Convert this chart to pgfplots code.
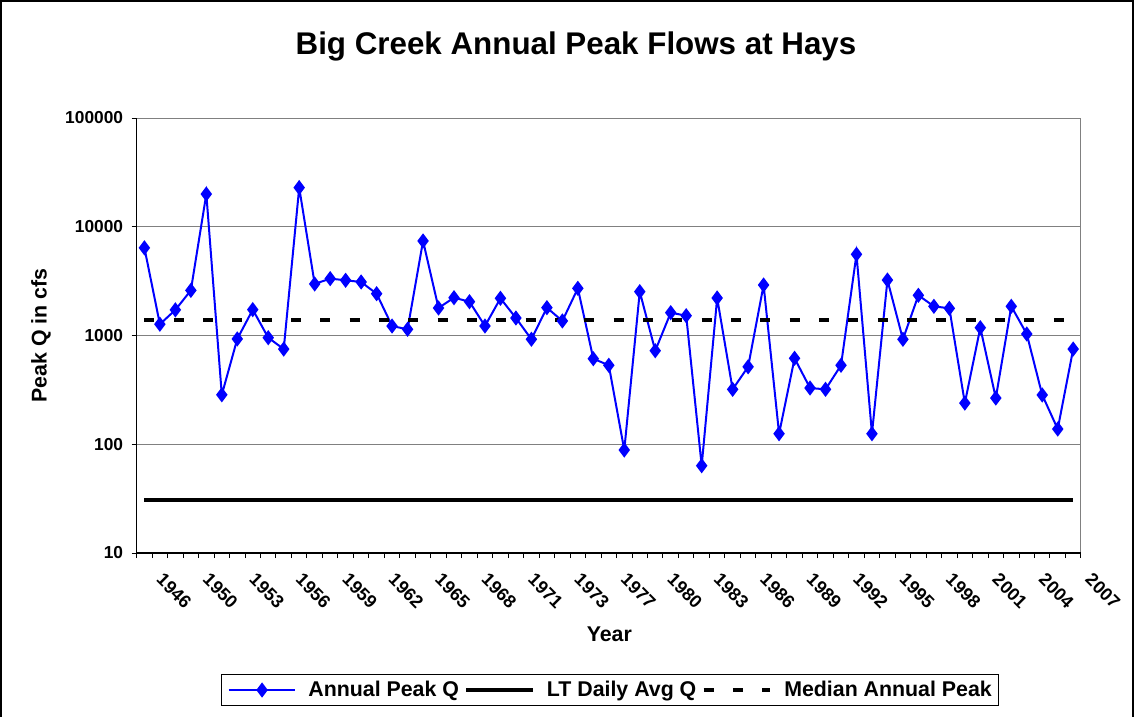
\documentclass[border=0pt]{standalone}
\usepackage{fontspec}
\setmainfont{Liberation Sans}
\usepackage{pgfplots}
\pgfplotsset{compat=1.18}

\definecolor{gridgray}{RGB}{128,128,128}

\begin{document}
\begin{tikzpicture}
\useasboundingbox (0,0) rectangle (851.25pt,-537.75pt);
% chart frame
\draw[black, line width=1.5pt] (0.75pt,-537.75pt) -- (0.75pt,-0.75pt) -- (849.75pt,-0.75pt) -- (849.75pt,-537.75pt);
\node[anchor=base, font=\bfseries\fontsize{23.5}{24}\selectfont] at (432pt,-41.25pt) {Big Creek Annual Peak Flows at Hays};
\node[anchor=base, rotate=90, font=\bfseries\fontsize{16}{17}\selectfont] at (35pt,-251.6pt) {Peak Q in cfs};
\node[anchor=base, font=\bfseries\fontsize{16}{17}\selectfont] at (457pt,-481.3pt) {Year};

\begin{axis}[
  at={(102.5pt,-414.75pt)}, anchor=south west,
  scale only axis, width=708.2pt, height=326.25pt,
  xmin=0.5, xmax=61.5, ymin=10, ymax=100000, ymode=log,
  clip=false,
  axis line style={gridgray, line width=0.75pt},
  tick pos=left,
  ytick={10,100,1000,10000,100000},
  yticklabels={10,100,1000,10000,100000},
  minor ytick={10,100,1000,10000,100000},
  xtick={1,4,...,61},
  xticklabels={1946,1950,1953,1956,1959,1962,1965,1968,1971,1973,1977,1980,1983,1986,1989,1992,1995,1998,2001,2004,2007},
  minor xtick={0.5,1.5,...,61.5},
  tick align=outside, major tick length=0pt, minor tick length=3.75pt,
  minor tick style={black, line width=0.75pt},
  ymajorgrids, major grid style={gridgray, line width=0.75pt},
  /pgf/number format/assume math mode=true,
  ticklabel style={font=\bfseries\fontsize{13}{14}\selectfont},
  yticklabel style={inner xsep=0pt, xshift=-10pt},
  xticklabel style={inner sep=0pt, xshift=15pt, yshift=-14pt, rotate=-45, anchor=north west, font=\bfseries\fontsize{13.5}{14}\selectfont},
  legend columns=3,
  legend style={at={(0.501,-0.315)}, anchor=center, draw=black, line width=0.75pt,
    font=\bfseries\fontsize{16}{17}\selectfont, inner xsep=5pt, inner ysep=3pt,
    nodes={inner xsep=0pt},
    /tikz/every even column/.append style={column sep=4pt},
    /tikz/every odd column/.append style={column sep=9pt}},
  legend image code/.code={\draw[mark repeat=2,mark phase=2,#1] plot coordinates {(0pt,0pt)(25pt,0pt)(50pt,0pt)};},
]
\addplot[blue, line width=1.5pt, mark=diamond*, mark size=4.5pt, mark options={solid, fill=blue}] coordinates {
(1,6400)(2,1270)(3,1720)(4,2600)(5,20000)(6,285)(7,930)(8,1730)(9,955)(10,750)
(11,22900)(12,2980)(13,3335)(14,3220)(15,3105)(16,2423)(17,1222)(18,1140)(19,7400)(20,1791)
(21,2226)(22,2046)(23,1222)(24,2198)(25,1449)(26,923)(27,1803)(28,1360)(29,2717)(30,612)
(31,532)(32,88.5)(33,2529)(34,725)(35,1621)(36,1521)(37,63.5)(38,2212)(39,320)(40,516)
(41,2913)(42,125)(43,617)(44,329)(45,320)(46,532)(47,5580)(48,125)(49,3238)(50,923)
(51,2343)(52,1855)(53,1778)(54,239)(55,1180)(56,266)(57,1855)(58,1032)(59,284)(60,138)
(61,751)};
\addlegendentry{Annual Peak Q}
\addplot[black, line width=3pt] coordinates {(1,31)(61,31)};
\addlegendentry{LT Daily Avg Q}
\addplot[black, line width=3pt, dash pattern=on 7.5pt off 14.5pt] coordinates {(1,1380)(61,1380)};
\addlegendentry{Median Annual Peak}
\draw[black, line width=1pt] (rel axis cs:0,1) -- (rel axis cs:0,0) -- (rel axis cs:1,0);
\end{axis}
\end{tikzpicture}
\end{document}
